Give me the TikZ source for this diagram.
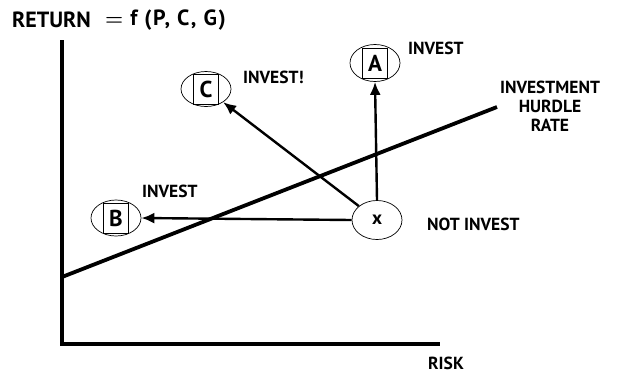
\documentclass[tikz,border=0pt]{standalone}
\usepackage{fontspec}
\setmainfont{PT Sans}
\usetikzlibrary{shapes.geometric, arrows.meta}

\begin{document}
\begin{tikzpicture}[
            x=1pt, y=-1pt,
            ax/.style={line width=3.5pt},
            hurdle/.style={line width=3.8pt},
            arr/.style={draw, -{Latex[length=13pt,width=11pt]}, line width=2.4pt},
            opt/.style={ellipse, draw, line width=0.7pt, minimum width=50pt, minimum height=37pt, inner sep=0pt},
            letterbox/.style={draw, line width=0.7pt, minimum width=25pt, minimum height=30pt, inner sep=0pt, font=\bfseries\fontsize{23}{25}\selectfont},
            lbl/.style={font=\bfseries\fontsize{17.5}{19}\selectfont, inner sep=0pt},
            big/.style={font=\bfseries\fontsize{22}{24}\selectfont, inner sep=0pt}
        ]
        \useasboundingbox (0,0) rectangle (617,373);

        % Axes
        \coordinate (O) at (62,344);
        \coordinate (Ytop) at (62,40);
        \coordinate (Xend) at (440,344);
        \draw[ax] (Ytop) -- (O) -- (Xend);
        \node[big, anchor=west] (ret) at (12,20) {RETURN};
        \node[big, anchor=west] (fn) at (105,20) {{\boldmath$=$}\hspace{7pt}\addfontfeature{LetterSpace=7}f (P, C, G)};
        \node[lbl, anchor=west] (risk) at (428,363) {RISK};

        % Hurdle rate
        \coordinate (H0) at (62,277);
        \coordinate (H1) at (497,107);
        \draw[hurdle] (H0) -- (H1);
        \node[lbl, align=center] (hrl) at (550,106) {INVESTMENT\\HURDLE\\RATE};

        % Options
        \node[opt] (A) at (375,63) {};
        \node[letterbox] (Abox) at (A) {A};
        \node[opt, minimum height=35pt] (C) at (206,89) {};
        \node[letterbox] (Cbox) at (C) {C};
        \node[opt, minimum height=36pt] (B) at (116,218) {};
        \node[letterbox] (Bbox) at (B) {B};
        \node[opt, minimum height=39pt, font=\bfseries\fontsize{19}{21}\selectfont] (X) at (377,220) {x};

        % Labels
        \node[lbl, anchor=west] (la) at (408,48) {INVEST};
        \node[lbl, anchor=west] (lc) at (243,77) {INVEST!};
        \node[lbl, anchor=west] (lb) at (142,191) {INVEST};
        \node[lbl, anchor=west] (lx) at (427,224) {NOT INVEST};

        % X -> options
        \draw[arr] (X.north) -- (A.south);
        \draw[arr] (X) -- (C);
        \draw[arr] (X.west) -- (B.east);
    \end{tikzpicture}
\end{document}
